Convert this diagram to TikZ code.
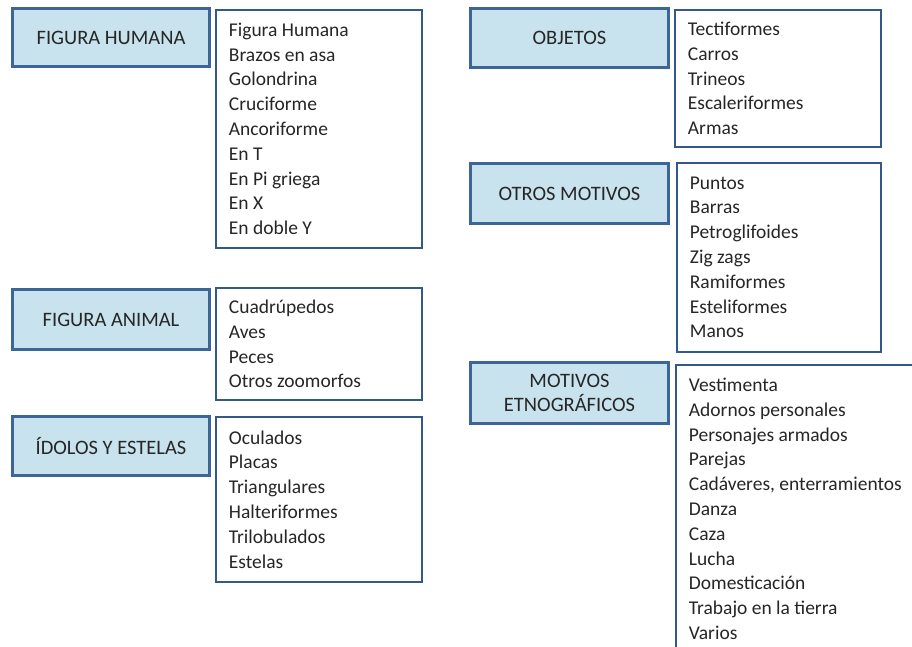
\documentclass[tikz,border=0pt]{standalone}
\usepackage{fontspec}
\setmainfont{Carlito}
\definecolor{headfill}{RGB}{200,226,238}
\definecolor{headline}{RGB}{60,102,152}
\definecolor{listline}{RGB}{52,88,136}
\begin{document}
\begin{tikzpicture}
				[x=1pt,y=-1pt,
				every node/.style={font=\fontsize{19.5}{24.8}\selectfont, text=black!85},
				head/.style={rectangle, draw=headline, line width=3pt,
				fill=headfill, anchor=north west, align=center, inner sep=0pt,
				font=\fontsize{20.5}{24.5}\selectfont},
				list/.style={rectangle, draw=listline, line width=1.8pt,
				fill=white, anchor=north west, align=flush left, inner xsep=13pt, inner ysep=0pt}]
				\useasboundingbox (0,0) rectangle (912,646);
				\clip (0,0) rectangle (912,646);
				\fill[white] (0,0) rectangle (912,646);

				\node[head, minimum width=197, minimum height=58] (fh) at (11,7) {FIGURA HUMANA};
				\node[head, minimum width=197, minimum height=60] (fa) at (11,288) {FIGURA ANIMAL};
				\node[head, minimum width=197, minimum height=59] (ie) at (11,415) {ÍDOLOS Y ESTELAS};
				\node[head, minimum width=198, minimum height=59] (ob) at (469,7) {OBJETOS};
				\node[head, minimum width=198, minimum height=60] (om) at (469,162) {OTROS MOTIVOS};
				\node[head, minimum width=198, minimum height=61] (me) at (469,361) {MOTIVOS\\ETNOGRÁFICOS};

				\node[list, text width=180, minimum height=238] (fhl) at (215,9)
				{Figura Humana\\Brazos en asa\\Golondrina\\Cruciforme\\Ancoriforme\\En T\\En Pi griega\\En X\\En doble Y};
				\node[list, text width=180, minimum height=112] (fal) at (215,287)
				{Cuadrúpedos\\Aves\\Peces\\Otros zoomorfos};
				\node[list, text width=180, minimum height=165] (iel) at (215,416)
				{Oculados\\Placas\\Triangulares\\Halteriformes\\Trilobulados\\Estelas};
				\node[list, text width=180, minimum height=137] (obl) at (674,9)
				{Tectiformes\\Carros\\Trineos\\Escaleriformes\\Armas};
				\node[list, text width=178, minimum height=189] (oml) at (676,162)
				{Puntos\\Barras\\Petroglifoides\\Zig zags\\Ramiformes\\Esteliformes\\Manos};
				\node[list, text width=250, minimum height=288] (mel) at (675,364)
				{Vestimenta\\Adornos personales\\Personajes armados\\Parejas\\Cadáveres, enterramientos\\Danza\\Caza\\Lucha\\Domesticación\\Trabajo en la tierra\\Varios};
			\end{tikzpicture}
\end{document}
